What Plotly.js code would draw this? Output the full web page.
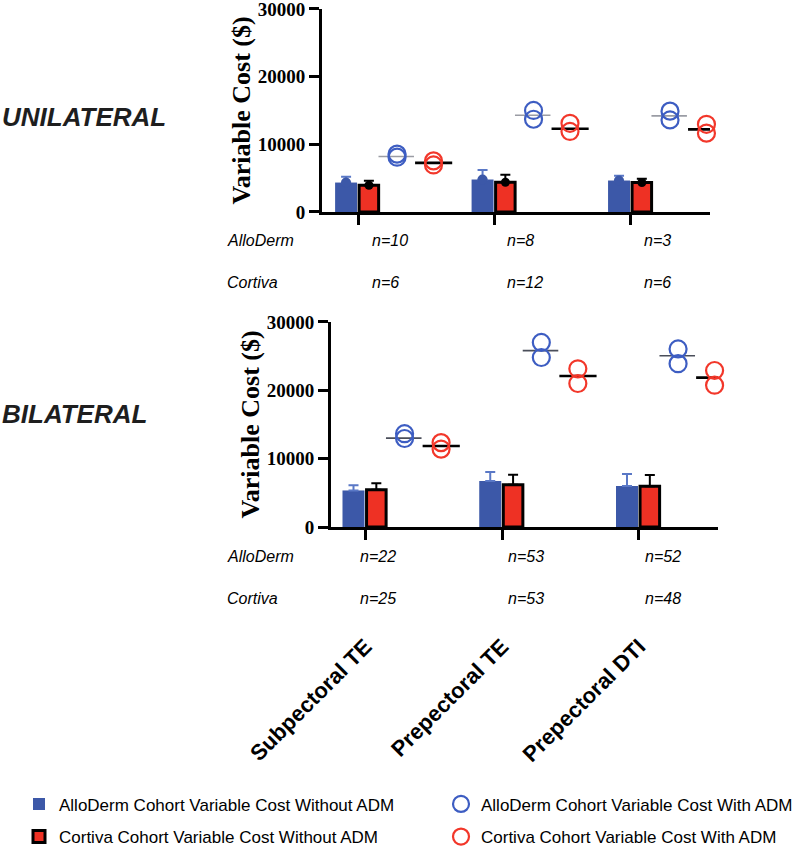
<!DOCTYPE html>
<html>
<head>
<meta charset="utf-8">
<script src="https://cdn.plot.ly/plotly-3.0.1.min.js"></script>
<style>
  html, body { margin: 0; padding: 0; background: #fff; }
  #chart { width: 800px; height: 855px; }
</style>
</head>
<body>
<div id="chart"></div>
<script>
// ---------------- DATA ----------------
const categories = ["Subpectoral TE", "Prepectoral TE", "Prepectoral DTI"];
const yTicks = [0, 10000, 20000, 30000];

// Unilateral panel
const uniAlloBar = [4350, 4800, 4650];
const uniAlloErr = [850, 1400, 700];
const uniCortBar = [3950, 4400, 4350];
const uniCortErr = [650, 1100, 550];
const uniAlloWith = [[8550, 8100], [15000, 13700], [14900, 13600]];
const uniAlloWithMean = [8200, 14300, 14200];
const uniCortWith = [[7550, 6950], [13100, 11900], [12950, 11650]];
const uniCortWithMean = [7250, 12300, 12200];
const uniAlloN = ["n=10", "n=8", "n=3"];
const uniCortN = ["n=6", "n=12", "n=6"];

// Bilateral panel
const biAlloBar = [5350, 6750, 6000];
const biAlloErr = [750, 1300, 1750];
const biCortBar = [5450, 6200, 5950];
const biCortErr = [950, 1450, 1650];
const biAlloWith = [[13650, 12950], [27000, 24800], [26050, 23900]];
const biAlloWithMean = [13000, 25800, 25050];
const biCortWith = [[12350, 11400], [23150, 21000], [22900, 20750]];
const biCortWithMean = [11850, 22100, 21850];
const biAlloN = ["n=22", "n=53", "n=52"];
const biCortN = ["n=25", "n=53", "n=48"];

const rowLabels = ["UNILATERAL", "BILATERAL"];
const cohortLabels = ["AlloDerm", "Cortiva"];
const seriesNames = [
  "AlloDerm Cohort Variable Cost Without ADM",
  "AlloDerm Cohort Variable Cost With ADM",
  "Cortiva Cohort Variable Cost Without ADM",
  "Cortiva Cohort Variable Cost With ADM"
];
const yTitle = "Variable Cost ($)";

// ---------------- STYLE ----------------
const BLUE = "#3C58A8";
const BLUE_ERR = "#5A78C6";
const BLUE_CIRC = "#3D5DC2";
const RED = "#EE3124";
const RED_CIRC = "#F2372A";
const W = 800, H = 855;
const px = v => v / W;
const py = v => 1 - v / H;

const idx = categories.map((c, i) => i);

function panelTraces(xa, ya, alloBar, alloErr, cortBar, cortErr, alloWith, alloMean, cortWith, cortMean, legendOn, showDots, blueMeanColor) {
  const t = [];
  t.push({
    type: "bar", x: idx, y: alloBar, xaxis: xa, yaxis: ya,
    width: 0.161, offset: -0.168,
    marker: { color: BLUE, line: { width: 0 } },
    error_y: { type: "data", symmetric: false, array: alloErr, arrayminus: alloErr.map(() => 0), color: BLUE_ERR, thickness: 2, width: 5 },
    name: seriesNames[0], showlegend: legendOn, legend: "legend", hoverinfo: "y"
  });
  t.push({
    type: "bar", x: idx, y: cortBar, xaxis: xa, yaxis: ya,
    width: 0.143, offset: 0.008,
    marker: { color: RED, line: { color: "#000", width: 3 } },
    error_y: { type: "data", symmetric: false, array: cortErr, arrayminus: cortErr.map(() => 0), color: "#000", thickness: 2, width: 5 },
    name: seriesNames[2], showlegend: legendOn, legend: "legend3", hoverinfo: "y"
  });
  if (showDots) {
    t.push({ type: "scatter", mode: "markers", x: idx.map(i => i - 0.088), y: alloBar, xaxis: xa, yaxis: ya, cliponaxis: false,
      marker: { color: BLUE, size: 10, symbol: "circle" }, showlegend: false, hoverinfo: "skip" });
    t.push({ type: "scatter", mode: "markers", x: idx.map(i => i + 0.08), y: cortBar, xaxis: xa, yaxis: ya, cliponaxis: false,
      marker: { color: "#000", size: 9, symbol: "circle" }, showlegend: false, hoverinfo: "skip" });
  }
  const mlx = [], mly = [], mrx = [], mry = [];
  idx.forEach(i => {
    mlx.push(i + 0.15, i + 0.41, null); mly.push(alloMean[i], alloMean[i], null);
    mrx.push(i + 0.418, i + 0.69, null); mry.push(cortMean[i], cortMean[i], null);
  });
  t.push({ type: "scatter", mode: "lines", x: mlx, y: mly, xaxis: xa, yaxis: ya, cliponaxis: false,
    line: { color: blueMeanColor, width: 1.6 }, showlegend: false, hoverinfo: "skip" });
  t.push({ type: "scatter", mode: "lines", x: mrx, y: mry, xaxis: xa, yaxis: ya, cliponaxis: false,
    line: { color: "#000", width: 2.6 }, showlegend: false, hoverinfo: "skip" });
  const bx = [], by = [], rx = [], ry = [];
  idx.forEach(i => {
    alloWith[i].forEach(v => { bx.push(i + 0.286); by.push(v); });
    cortWith[i].forEach(v => { rx.push(i + 0.553); ry.push(v); });
  });
  t.push({ type: "scatter", mode: "markers", x: bx, y: by, xaxis: xa, yaxis: ya, cliponaxis: false,
    marker: { symbol: "circle-open", size: 17, color: BLUE_CIRC, line: { width: 2.2, color: BLUE_CIRC } },
    name: seriesNames[1], showlegend: legendOn, legend: "legend2", hoverinfo: "y" });
  t.push({ type: "scatter", mode: "markers", x: rx, y: ry, xaxis: xa, yaxis: ya, cliponaxis: false,
    marker: { symbol: "circle-open", size: 17, color: RED_CIRC, line: { width: 2.2, color: RED_CIRC } },
    name: seriesNames[3], showlegend: legendOn, legend: "legend4", hoverinfo: "y" });
  return t;
}

const topTraces = panelTraces("x", "y", uniAlloBar, uniAlloErr, uniCortBar, uniCortErr, uniAlloWith, uniAlloWithMean, uniCortWith, uniCortWithMean, true, true, "#9a9ca4");
const botTraces = panelTraces("x2", "y2", biAlloBar, biAlloErr, biCortBar, biCortErr, biAlloWith, biAlloWithMean, biCortWith, biCortWithMean, false, false, "#4a4e5a");
const data = topTraces.concat(botTraces);

const tickFont = { family: "Liberation Serif, Times New Roman, serif", size: 19, color: "#000", weight: 700 };
const titleFont = { family: "Liberation Serif, Times New Roman, serif", size: 26, color: "#000", weight: 700 };

function yAxis(domain, anchor) {
  return {
    domain: domain, anchor: anchor, range: [0, 30000], tickvals: yTicks, ticktext: yTicks.map(String),
    showline: true, linecolor: "#000", linewidth: 3, ticks: "outside", ticklen: 10, tickwidth: 3, tickcolor: "#000",
    showgrid: false, zeroline: false, tickfont: tickFont, fixedrange: true, ticklabeloverflow: "allow",
    title: { text: yTitle, font: titleFont, standoff: 0 }, automargin: false
  };
}
function xAxis(domain, anchor, range, labels) {
  const a = {
    domain: domain, anchor: anchor, range: range, tickvals: idx,
    showline: true, linecolor: "#000", linewidth: 3, ticks: "outside", ticklen: 10, tickwidth: 3, tickcolor: "#000",
    showgrid: false, zeroline: false, fixedrange: true, automargin: false
  };
  if (labels) {
    a.showticklabels = true; a.ticktext = labels; a.tickangle = -45; a.ticklabelstandoff = 85;
    a.ticklabeloverflow = "allow";
    a.tickfont = { family: "Liberation Sans, Arial, sans-serif", size: 22, color: "#000", weight: 700 };
  } else {
    a.showticklabels = false;
  }
  return a;
}

const annotations = [];
const sansIt = { family: "Liberation Sans, Arial, sans-serif", size: 16, color: "#000", style: "italic" };
const rowFont = { family: "Liberation Sans, Arial, sans-serif", size: 26, color: "#1e1e1e", weight: 700, style: "italic" };
annotations.push({ text: rowLabels[0], xref: "paper", yref: "paper", x: px(0), y: py(118), xanchor: "left", yanchor: "middle", showarrow: false, font: rowFont });
annotations.push({ text: rowLabels[1], xref: "paper", yref: "paper", x: px(0), y: py(418), xanchor: "left", yanchor: "middle", showarrow: false, font: rowFont });
const uniNx = [370, 505, 642], biNx = [358, 506, 643];
[[243, uniAlloN, uniNx, 0], [285, uniCortN, uniNx, 1], [562, biAlloN, biNx, 0], [604, biCortN, biNx, 1]].forEach(([yy, arr, xs, c]) => {
  annotations.push({ text: cohortLabels[c], xref: "paper", yref: "paper", x: px(225), y: py(yy), xanchor: "left", yanchor: "middle", showarrow: false, font: sansIt });
  arr.forEach((t, i) => annotations.push({ text: t, xref: "paper", yref: "paper", x: px(xs[i]), y: py(yy), xanchor: "left", yanchor: "middle", showarrow: false, font: sansIt }));
});

const legendFont = { family: "Liberation Sans, Arial, sans-serif", size: 17, color: "#000" };
function leg(xp, yp) {
  return { orientation: "v", x: px(xp), y: py(yp), xanchor: "left", yanchor: "middle", font: legendFont, bgcolor: "rgba(0,0,0,0)", borderwidth: 0 };
}
const layout = {
  width: W, height: H, margin: { l: 0, r: 0, t: 0, b: 0 },
  paper_bgcolor: "#fff", plot_bgcolor: "#fff", barmode: "overlay", showlegend: true,
  xaxis: xAxis([px(322), px(710)], "y", [-0.264, 2.579], null),
  yaxis: yAxis([py(214), py(9)], "x"),
  xaxis2: xAxis([px(331), px(718)], "y2", [-0.252, 2.578], categories),
  yaxis2: yAxis([py(532), py(325)], "x2"),
  legend: leg(19, 812),
  legend2: leg(441, 812),
  legend3: leg(19, 845),
  legend4: leg(441, 845),
  annotations: annotations
};

Plotly.newPlot("chart", data, layout, { displayModeBar: false, staticPlot: true });
</script>
</body>
</html>
